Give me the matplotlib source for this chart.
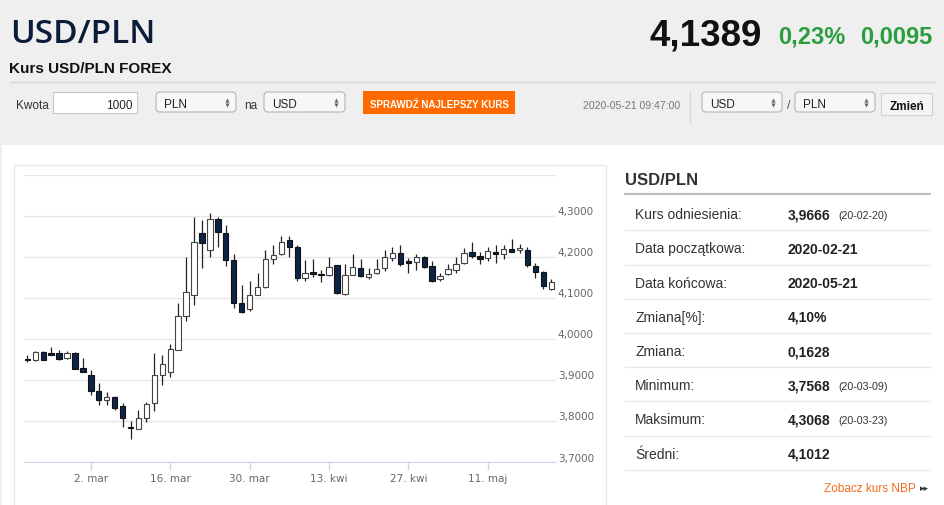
import matplotlib
matplotlib.use("Agg")
import matplotlib.pyplot as plt
from matplotlib.patches import Rectangle, FancyBboxPatch
from matplotlib.transforms import ScaledTranslation

# -------------------------
# Data
# -------------------------

open_ = [3.952, 3.949, 3.969, 3.966, 3.965, 3.955, 3.965, 3.929, 3.913, 3.873,
         3.852, 3.860, 3.836, 3.787, 3.782, 3.808, 3.845, 3.913, 3.919, 3.974,
         4.055, 4.107, 4.259, 4.216, 4.292, 4.259, 4.192, 4.088, 4.072, 4.108,
         4.126, 4.194, 4.208, 4.241, 4.223, 4.149, 4.163, 4.159, 4.157, 4.180,
         4.110, 4.155, 4.172, 4.151, 4.161, 4.172, 4.198, 4.210, 4.190, 4.187,
         4.200, 4.178, 4.145, 4.159, 4.169, 4.186, 4.212, 4.202, 4.198, 4.212,
         4.206, 4.218, 4.216, 4.216, 4.178, 4.164, 4.123]
high = [3.960, 3.971, 3.972, 3.981, 3.973, 3.971, 3.968, 3.953, 3.925, 3.893,
        3.871, 3.862, 3.844, 3.800, 3.827, 3.847, 3.966, 3.961, 3.988, 4.088,
        4.200, 4.296, 4.289, 4.307, 4.296, 4.278, 4.206, 4.131, 4.141, 4.161,
        4.216, 4.228, 4.251, 4.251, 4.228, 4.192, 4.196, 4.169, 4.200, 4.181,
        4.183, 4.207, 4.195, 4.173, 4.194, 4.216, 4.224, 4.229, 4.198, 4.206,
        4.202, 4.191, 4.161, 4.183, 4.200, 4.221, 4.235, 4.212, 4.224, 4.229,
        4.229, 4.243, 4.232, 4.224, 4.186, 4.165, 4.145]
low = [3.943, 3.947, 3.948, 3.960, 3.949, 3.952, 3.926, 3.919, 3.865, 3.839,
       3.840, 3.828, 3.785, 3.757, 3.780, 3.797, 3.825, 3.888, 3.908, 3.974,
       4.043, 4.084, 4.172, 4.200, 4.223, 4.178, 4.076, 4.063, 4.069, 4.106,
       4.125, 4.183, 4.205, 4.200, 4.141, 4.141, 4.151, 4.139, 4.153, 4.110,
       4.106, 4.155, 4.150, 4.145, 4.159, 4.165, 4.190, 4.178, 4.161, 4.169,
       4.173, 4.138, 4.141, 4.157, 4.161, 4.182, 4.198, 4.182, 4.190, 4.186,
       4.194, 4.212, 4.210, 4.176, 4.149, 4.123, 4.120]
close = [3.948, 3.969, 3.949, 3.962, 3.952, 3.965, 3.927, 3.919, 3.873, 3.852,
         3.860, 3.832, 3.808, 3.784, 3.808, 3.842, 3.913, 3.939, 3.976, 4.055,
         4.114, 4.237, 4.233, 4.292, 4.261, 4.192, 4.088, 4.066, 4.107, 4.126,
         4.196, 4.205, 4.236, 4.223, 4.149, 4.161, 4.159, 4.157, 4.175, 4.111,
         4.155, 4.175, 4.153, 4.159, 4.171, 4.200, 4.210, 4.183, 4.185, 4.200,
         4.176, 4.142, 4.153, 4.171, 4.182, 4.210, 4.201, 4.194, 4.214, 4.208,
         4.218, 4.212, 4.222, 4.179, 4.164, 4.129, 4.139]

tick_idx = [8, 18, 28, 38, 48, 58]
tick_labels = ["2. mar", "16. mar", "30. mar", "13. kwi", "27. kwi", "11. maj"]
y_ticks = [3.7, 3.8, 3.9, 4.0, 4.1, 4.2, 4.3, 4.4]
y_labels = ["3,7000", "3,8000", "3,9000", "4,0000", "4,1000", "4,2000", "4,3000", ""]

stat_labels = ["Kurs odniesienia:", "Data początkowa:", "Data końcowa:", "Zmiana[%]:",
               "Zmiana:", "Minimum:", "Maksimum:", "Średni:"]
stat_values = ["3,9666", "2020-02-21", "2020-05-21", "4,10%",
               "0,1628", "3,7568", "4,3068", "4,1012"]
stat_dates = ["(20-02-20)", "", "", "", "", "(20-03-09)", "(20-03-23)", ""]

# -------------------------
# Styling
# -------------------------

NAVY = "#0c2448"
GREEN = "#2a9d3c"
ORANGE = "#ff6a00"
SANS = ["Liberation Sans", "DejaVu Sans"]

W, H = 945, 506
fig = plt.figure(figsize=(W / 100, H / 100), dpi=100)
fig.patch.set_facecolor("#efefef")

# pixel overlay for the page furniture
bg = fig.add_axes([0, 0, 1, 1])
bg.set_xlim(0, W)
bg.set_ylim(H, 0)
bg.axis("off")


def txt(x, y, s, size, **kw):
    kw.setdefault("family", SANS)
    kw.setdefault("color", "#333333")
    kw.setdefault("va", "baseline")
    bg.text(x, y, s, fontsize=size, **kw)


def select_box(x, w, label):
    bg.add_patch(FancyBboxPatch((x, 93), w, 20, boxstyle="round,pad=0,rounding_size=4",
                                facecolor="#f7f7f7", edgecolor="#b5b5b5", lw=0.8))
    txt(x + 8, 108, label, 8.5, color="#222222")
    bg.plot(x + w - 9, 100.5, marker="^", ms=3, color="#666666", mec="none")
    bg.plot(x + w - 9, 105.5, marker="v", ms=3, color="#666666", mec="none")


# header
txt(10, 43, "USD/PLN", 24, family=["Open Sans", "Liberation Sans"],
    weight="semibold", color="#0b1c38")
txt(9, 72.5, "Kurs USD/PLN FOREX", 11, weight="bold", color="#111111")
txt(762, 45, "4,1389", 26.5, weight="bold", color="#111111", ha="right")
txt(778, 43.5, "0,23%", 17, weight="bold", color=GREEN)
txt(860, 43.5, "0,0095", 17, weight="bold", color=GREEN)
bg.plot([10, 935], [83, 83], color="#d6d6d6", lw=1)

# form row
txt(16, 109, "Kwota", 8.5)
bg.add_patch(Rectangle((53, 93), 84, 21, facecolor="white", edgecolor="#c8c8c8", lw=0.8))
txt(133, 109, "1000", 8.5, ha="right", color="#222222")
select_box(156, 80, "PLN")
txt(244, 109, "na", 8.5)
select_box(264, 81, "USD")
bg.add_patch(Rectangle((363, 92), 152, 23, facecolor=ORANGE, edgecolor="none"))
txt(439, 108, "SPRAWDŹ NAJLEPSZY KURS", 7, weight="bold", color="white", ha="center")
txt(680, 109, "2020-05-21 09:47:00", 7.6, color="#777777", ha="right")
bg.plot([690, 690], [92, 124], color="#d8d8d8", lw=1)
select_box(702, 80, "USD")
txt(787, 109, "/", 9, color="#555555")
select_box(795, 80, "PLN")
bg.add_patch(Rectangle((881, 94), 51, 22, facecolor="#f4f4f4", edgecolor="#d0d0d0", lw=0.8))
txt(906.5, 110, "Zmień", 8.5, weight="bold", color="#111111", ha="center")

# white body panel and chart box
bg.add_patch(Rectangle((2, 146), W, H, facecolor="white", edgecolor="none"))
bg.add_patch(Rectangle((14, 166), 592, 360, facecolor="white", edgecolor="#e6e6e6", lw=1))

# right statistics panel
txt(625, 185, "USD/PLN", 12, weight="bold", color="#333333")
bg.plot([625, 930], [195, 195], color="#bdbdbd", lw=1.5)
for k, (lab, val, dt) in enumerate(zip(stat_labels, stat_values, stat_dates)):
    base = 219.3 + k * 34.2
    txt(635, base, lab, 10, color="#333333")
    txt(788, base, val, 10, weight="bold", color="#222222")
    if dt:
        txt(838, base, dt, 7.7, color="#333333")
    bg.plot([625, 930], [base + 12, base + 12], color="#e8e8e8", lw=1)
txt(916, 492, "Zobacz kurs NBP", 8.5, color="#f26b1d", ha="right")
txt(920, 491, "▸▸", 6.5, family=["DejaVu Sans"], color="#333333")

# -------------------------
# Candlestick chart
# -------------------------

ax = fig.add_axes([24 / W, 1 - 463.3 / H, (555.7 - 24) / W, (463.3 - 175.7) / H])
ax.set_facecolor("none")
n = len(close)
ax.set_xlim(-0.42, n - 1 + 0.56)
ax.set_ylim(3.7, 4.4)

xs = list(range(n))
ax.vlines(xs, low, high, color="#222222", lw=0.9, zorder=2)
for i in xs:
    o, c = open_[i], close[i]
    up = c >= o
    body = max(abs(c - o), 0.0012)
    ax.bar(i, body, bottom=min(o, c), width=0.68,
           color="white" if up else NAVY,
           edgecolor="#444444" if up else "#111111", lw=0.8, zorder=3)

ax.set_yticks(y_ticks)
ax.set_yticklabels(y_labels)
ax.yaxis.tick_right()
ax.tick_params(axis="y", length=0, pad=1.5, labelsize=7.5, labelcolor="#666666")
shift = ScaledTranslation(0, 0.058, fig.dpi_scale_trans)
for lab in ax.get_yticklabels():
    lab.set_transform(lab.get_transform() + shift)
    lab.set_horizontalalignment("left")

ax.set_xticks(tick_idx)
ax.set_xticklabels(tick_labels)
ax.tick_params(axis="x", length=6, width=1, color="#ccd6eb", pad=2,
               labelsize=7.5, labelcolor="#666666")

ax.grid(axis="y", color="#e6e6e6", lw=1, zorder=0)
ax.set_axisbelow(True)
for side in ["top", "left", "right"]:
    ax.spines[side].set_visible(False)
ax.spines["bottom"].set_color("#ccd6eb")

fig.savefig("out.png", dpi=100)
